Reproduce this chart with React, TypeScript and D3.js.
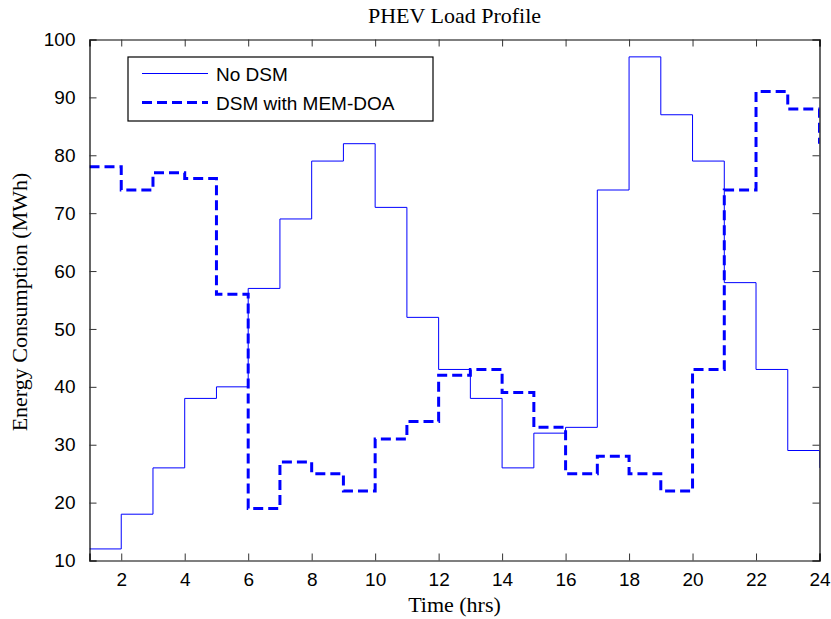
import React, { useRef, useEffect } from "react";
import * as d3 from "d3";

const hours = d3.range(1, 25);
const noDsm = [12, 18, 26, 38, 40, 57, 69, 79, 82, 71, 52, 43, 38, 26, 32, 33, 74, 97, 87, 79, 58, 43, 29, 26];
const dsmMemDoa = [78, 74, 77, 76, 56, 19, 27, 25, 22, 31, 34, 42, 43, 39, 33, 25, 28, 25, 22, 43, 74, 91, 88, 82];
const xTicks = [2, 4, 6, 8, 10, 12, 14, 16, 18, 20, 22, 24];
const yTicks = [10, 20, 30, 40, 50, 60, 70, 80, 90, 100];

const W = 831;
const H = 619;

const App: React.FC = () => {
  const svgRef = useRef<SVGSVGElement | null>(null);

  useEffect(() => {
    if (!svgRef.current) return;
    const svg = d3.select(svgRef.current);
    svg.selectAll("*").remove();

    const left = 89.5, right = 819.5, top = 39.5, bottom = 560.5;
    const x = d3.scaleLinear().domain([1, 24]).range([left, right]);
    const y = d3.scaleLinear().domain([10, 100]).range([bottom, top]);

    const sans = "'Liberation Sans', Arial, sans-serif";
    const serif = "'Liberation Serif', 'Times New Roman', serif";

    svg.append("rect").attr("width", W).attr("height", H).attr("fill", "#fff");

    // data lines (stairs)
    const line = d3
      .line<number>()
      .x((_, i) => x(hours[i]))
      .y((d) => y(d))
      .curve(d3.curveStepAfter);

    const clip = svg.append("clipPath").attr("id", "plotclip");
    clip.append("rect").attr("x", left).attr("y", top).attr("width", right - left).attr("height", bottom - top);

    const plot = svg.append("g").attr("clip-path", "url(#plotclip)");
    plot.append("path")
      .attr("d", line(noDsm))
      .attr("fill", "none")
      .attr("stroke", "#0000ff")
      .attr("stroke-width", 1);
    plot.append("path")
      .attr("d", line(dsmMemDoa))
      .attr("fill", "none")
      .attr("stroke", "#0000ff")
      .attr("stroke-width", 3)
      .attr("stroke-dasharray", "10,5");

    // axes: box with ticks on all sides
    const g = svg.append("g");
    g.append("g")
      .attr("transform", `translate(0,${bottom})`)
      .call(d3.axisBottom(x).tickValues(xTicks).tickSize(-7).tickPadding(12).tickFormat(d3.format("d")));
    g.append("g")
      .attr("transform", `translate(0,${top})`)
      .call(d3.axisTop(x).tickValues(xTicks).tickSize(-7).tickFormat(() => ""));
    g.append("g")
      .attr("transform", `translate(${left},0)`)
      .call(d3.axisLeft(y).tickValues(yTicks).tickSize(-7).tickPadding(14).tickFormat(d3.format("d")));
    g.append("g")
      .attr("transform", `translate(${right},0)`)
      .call(d3.axisRight(y).tickValues(yTicks).tickSize(-7).tickFormat(() => ""));
    g.selectAll(".domain").attr("stroke", "#000").attr("stroke-width", 1.2);
    g.selectAll(".tick line").attr("stroke", "#333");
    g.selectAll(".tick text").attr("font-family", sans).attr("font-size", 19).attr("fill", "#000");

    // titles
    svg.append("text")
      .attr("x", (left + right) / 2)
      .attr("y", 23)
      .attr("text-anchor", "middle")
      .attr("font-family", serif)
      .attr("font-size", 22)
      .text("PHEV Load Profile");
    svg.append("text")
      .attr("x", (left + right) / 2)
      .attr("y", 612)
      .attr("text-anchor", "middle")
      .attr("font-family", serif)
      .attr("font-size", 22)
      .text("Time (hrs)");
    svg.append("text")
      .attr("transform", `translate(27,${(top + bottom) / 2 + 2}) rotate(-90)`)
      .attr("text-anchor", "middle")
      .attr("font-family", serif)
      .attr("font-size", 22)
      .text("Energy Consumption (MWh)");

    // legend
    const lg = svg.append("g");
    lg.append("rect")
      .attr("x", 128).attr("y", 57).attr("width", 305).attr("height", 64)
      .attr("fill", "#fff").attr("stroke", "#000").attr("stroke-width", 1.2);
    const items = [
      { label: "No DSM", w: 1, dash: null as string | null, yy: 73.5 },
      { label: "DSM with MEM-DOA", w: 3, dash: "10,5", yy: 102.5 },
    ];
    items.forEach((it) => {
      const l = lg.append("line")
        .attr("x1", 142).attr("x2", 208).attr("y1", it.yy).attr("y2", it.yy)
        .attr("stroke", "#0000ff").attr("stroke-width", it.w);
      if (it.dash) l.attr("stroke-dasharray", it.dash);
      lg.append("text")
        .attr("x", 216).attr("y", it.yy + 7)
        .attr("font-family", sans).attr("font-size", 19)
        .text(it.label);
    });
  }, []);

  return (
    <svg
      ref={svgRef}
      width={W}
      height={H}
      style={{ position: "absolute", left: 0, top: 0, display: "block" }}
    ></svg>
  );
};

export default App;
